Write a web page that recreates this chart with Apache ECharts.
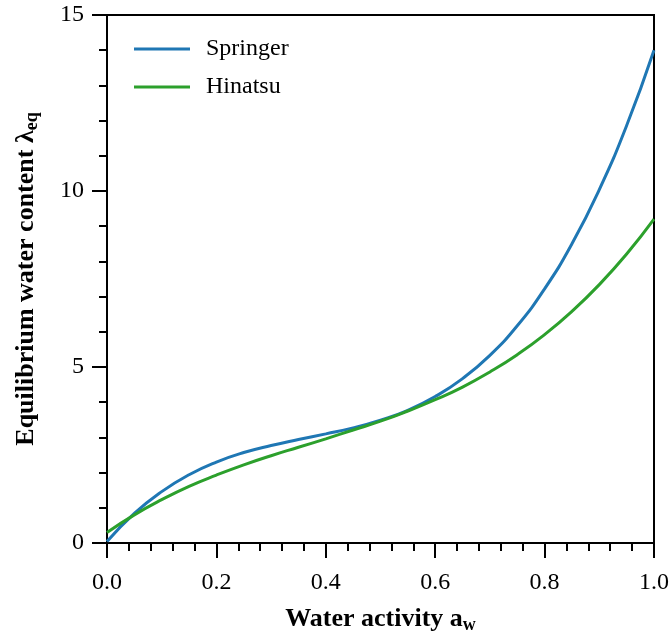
<!DOCTYPE html>
<html><head><meta charset="utf-8">
<script src="https://cdn.jsdelivr.net/npm/echarts@6/dist/echarts.min.js"></script>
<style>html,body{margin:0;padding:0;background:#fff}#c{width:672px;height:639px}</style>
</head><body><div id="c"></div>
<script>
const activity = [0,0.05,0.1,0.15,0.2,0.25,0.3,0.35,0.4,0.45,0.5,0.55,0.6,0.65,0.7,0.75,0.8,0.85,0.9,0.95,1.0];
const springer = [0.04,0.84,1.46,1.94,2.30,2.57,2.77,2.94,3.10,3.27,3.49,3.77,4.16,4.67,5.33,6.17,7.22,8.50,10.04,11.86,14.00];
const hinatsu = [0.30,0.80,1.23,1.61,1.93,2.22,2.48,2.72,2.96,3.21,3.46,3.75,4.07,4.43,4.86,5.35,5.92,6.58,7.34,8.21,9.20];
const seriesNames = ['Springer','Hinatsu'];
const xTicks = {min:0, max:1, interval:0.2};
const yTicks = {min:0, max:15, interval:5};

const chart = echarts.init(document.getElementById('c'));
const font = 'Liberation Serif';
const zip = (a,b)=>a.map((v,i)=>[v,b[i]]);
chart.setOption({
  animation:false,
  grid:{left:107,right:17,top:15,bottom:91,show:true,borderColor:'#000',borderWidth:2},
  legend:{
    orient:'vertical', left:129, top:31, itemGap:12,
    icon:'rect', itemWidth:56, itemHeight:3,
    textStyle:{fontFamily:font,fontSize:24,color:'#000',lineHeight:26,padding:[0,0,0,11]},
    data:seriesNames
  },
  xAxis:{
    type:'value', min:xTicks.min, max:xTicks.max, interval:xTicks.interval,
    axisLine:{lineStyle:{color:'#000',width:2}},
    axisTick:{show:true,length:15,lineStyle:{color:'#000',width:2}},
    minorTick:{show:true,splitNumber:5,length:8,lineStyle:{color:'#000',width:2}},
    splitLine:{show:false},
    axisLabel:{fontFamily:font,fontSize:24,color:'#000',margin:28,formatter:v=>v.toFixed(1)},
    name:'{b|Water activity a}{s|w}', nameLocation:'middle', nameGap:61,
    nameTextStyle:{rich:{
      b:{fontFamily:font,fontSize:26,fontWeight:'bold',color:'#000'},
      s:{fontFamily:font,fontSize:18,fontWeight:'bold',color:'#000',padding:[12,0,0,0]}
    }}
  },
  yAxis:{
    type:'value', min:yTicks.min, max:yTicks.max, interval:yTicks.interval,
    axisLine:{show:true,lineStyle:{color:'#000',width:2}},
    axisTick:{show:true,length:15,lineStyle:{color:'#000',width:2}},
    minorTick:{show:true,splitNumber:5,length:8,lineStyle:{color:'#000',width:2}},
    splitLine:{show:false},
    axisLabel:{fontFamily:font,fontSize:24,color:'#000',margin:23},
    name:'{b|Equilibrium water content λ}{s|eq}', nameLocation:'middle', nameGap:66,
    nameTextStyle:{rich:{
      b:{fontFamily:font,fontSize:26,fontWeight:'bold',color:'#000'},
      s:{fontFamily:font,fontSize:18,fontWeight:'bold',color:'#000',padding:[12,0,0,0]}
    }}
  },
  series:[
    {name:seriesNames[0],type:'line',data:zip(activity,springer),smooth:true,showSymbol:false,symbol:'none',
     lineStyle:{color:'#1f77b4',width:3},itemStyle:{color:'#1f77b4'}},
    {name:seriesNames[1],type:'line',data:zip(activity,hinatsu),smooth:true,showSymbol:false,symbol:'none',
     lineStyle:{color:'#2ca02c',width:3},itemStyle:{color:'#2ca02c'}}
  ]
});
</script></body></html>
